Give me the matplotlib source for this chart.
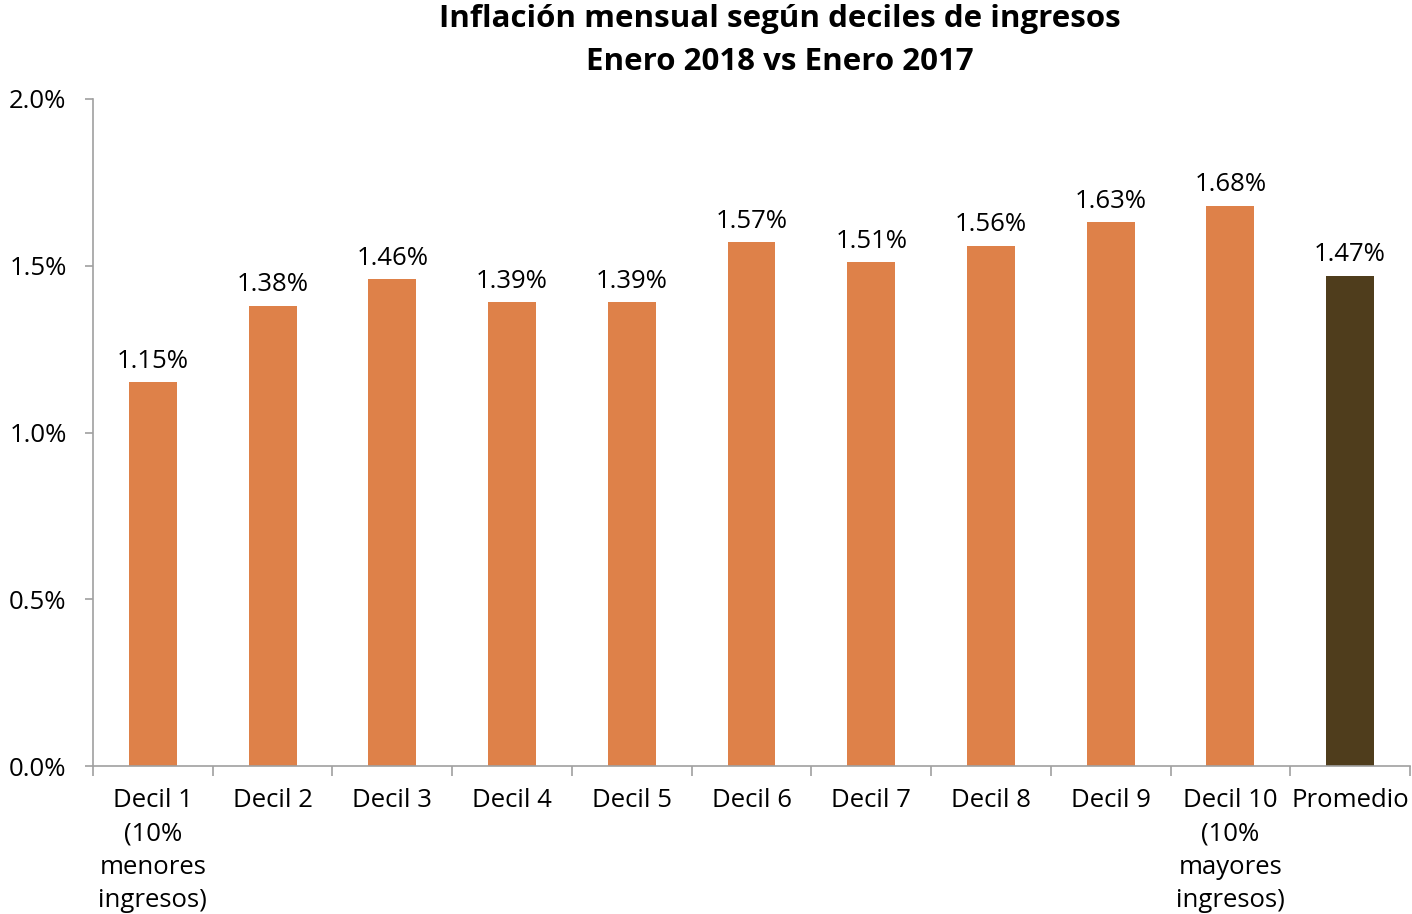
import matplotlib
matplotlib.use("Agg")
import matplotlib.pyplot as plt
import numpy as np
from matplotlib.ticker import FixedLocator, FuncFormatter

plt.rcParams['font.family'] = ['Open Sans', 'DejaVu Sans']

categories = ["Decil 1\n(10%\nmenores\ningresos)", "Decil 2", "Decil 3", "Decil 4", "Decil 5",
              "Decil 6", "Decil 7", "Decil 8", "Decil 9", "Decil 10\n(10%\nmayores\ningresos)",
              "Promedio"]
values = [1.15, 1.38, 1.46, 1.39, 1.39, 1.57, 1.51, 1.56, 1.63, 1.68, 1.47]
labels = ["1.15%", "1.38%", "1.46%", "1.39%", "1.39%", "1.57%", "1.51%", "1.56%", "1.63%", "1.68%", "1.47%"]
colors = ["#DE8149"] * 10 + ["#4F3D1C"]
yticks = [0.0, 0.5, 1.0, 1.5, 2.0]

fig = plt.figure(figsize=(14.12, 9.14), dpi=100)
ax = fig.add_axes([93/1412, 1-766/914, (1410-93)/1412, (766-99)/914])

x = np.arange(len(values))
ax.bar(x, values, width=0.40, color=colors)
for xi, v, lab in zip(x, values, labels):
    ax.text(xi, v + 0.025, lab, ha='center', va='bottom', fontsize=18.5, color='black')

ax.set_xlim(-0.5, len(values) - 0.5)
ax.set_ylim(0, 2.0)
ax.set_yticks(yticks)
ax.yaxis.set_major_formatter(FuncFormatter(lambda v, p: f"{v:.1f}%"))
ax.tick_params(axis='y', labelsize=18.5, length=6, color='#A0A0A0', width=1.2, pad=13)

ax.set_xticks(x)
ax.set_xticklabels(categories, fontsize=18.5, linespacing=1.43, va='top')
ax.tick_params(axis='x', length=0, pad=16)
ax.xaxis.set_minor_locator(FixedLocator(np.arange(-0.5, len(values), 1.0)))
ax.tick_params(axis='x', which='minor', length=7, color='#A0A0A0', width=1.2)

for s in ['top', 'right']:
    ax.spines[s].set_visible(False)
for s in ['left', 'bottom']:
    ax.spines[s].set_color('#A0A0A0')
    ax.spines[s].set_linewidth(1.2)

fig.text(780/1412, 1-19/914, "Inflación mensual según deciles de ingresos", ha='center', va='center',
         fontsize=22.5, fontweight='bold')
fig.text(780/1412, 1-62/914, "Enero 2018 vs Enero 2017", ha='center', va='center',
         fontsize=22.5, fontweight='bold')

fig.savefig("out.png", dpi=100)
